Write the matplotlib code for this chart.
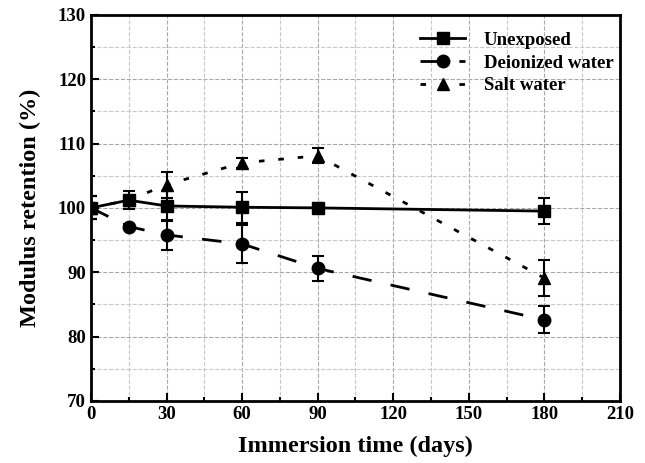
import matplotlib
matplotlib.use("Agg")
import matplotlib.pyplot as plt
from matplotlib.ticker import MultipleLocator
from matplotlib.lines import Line2D

# ===== datos =====
dias = [0, 15, 30, 60, 90, 180]

sin_exponer = [100.0, 101.2, 100.3, 100.1, 100.0, 99.5]
sin_exponer_err = [1.8, 1.4, 2.3, 2.4, 0.7, 2.0]

agua_desionizada = [100.0, 97.1, 95.8, 94.4, 90.6, 82.6]
agua_desionizada_err = [1.8, 0.4, 2.3, 2.9, 1.9, 2.1]

agua_salada = [100.0, 101.2, 103.6, 107.0, 108.1, 89.1]
agua_salada_err = [1.8, 0.4, 2.0, 0.8, 1.2, 2.8]

etiquetas = ["Unexposed", "Deionized water", "Salt water"]

# ===== gráfico =====
plt.rcParams["font.family"] = ["Liberation Serif", "DejaVu Serif"]
plt.rcParams["font.weight"] = "bold"

fig = plt.figure(figsize=(6.45, 4.63), dpi=100)
ax = fig.add_axes([0.141, 0.134, 0.820, 0.834])

estilo = dict(color="black", lw=2, capsize=4, capthick=1.5, elinewidth=1.5)
ls_sal = (0, (2, 5))
ls_des = (0, (7, 7))

ax.errorbar(dias, agua_salada, yerr=agua_salada_err, marker="^", ms=9,
            linestyle=ls_sal, zorder=3, **estilo)
ax.errorbar(dias, agua_desionizada, yerr=agua_desionizada_err, marker="o", ms=9,
            linestyle=ls_des, zorder=4, **estilo)
ax.errorbar(dias, sin_exponer, yerr=sin_exponer_err, marker="s", ms=8,
            linestyle="-", zorder=5, **estilo)

ax.set_xlim(0, 210)
ax.set_ylim(70, 130)
ax.xaxis.set_major_locator(MultipleLocator(30))
ax.xaxis.set_minor_locator(MultipleLocator(15))
ax.yaxis.set_major_locator(MultipleLocator(10))
ax.yaxis.set_minor_locator(MultipleLocator(5))

ax.grid(True, which="major", linestyle="--", color="#a8a8a8", lw=0.8)
ax.grid(True, which="minor", linestyle="--", color="#c8c8c8", lw=0.8)
ax.set_axisbelow(True)

ax.tick_params(which="both", direction="in", top=False, right=False,
               labelsize=13.5, width=1.5)
ax.tick_params(which="major", length=6)
ax.tick_params(which="minor", length=3)
for s in ax.spines.values():
    s.set_linewidth(2)

ax.set_xlabel("Immersion time (days)", fontsize=17.5, fontweight="bold", labelpad=9)
ax.set_ylabel("Modulus retention (%)", fontsize=17.5, fontweight="bold", labelpad=12)

# Leyenda sin barras de error
manejadores = [
    Line2D([], [], color="black", lw=2, marker="s", ms=8, linestyle="-"),
    Line2D([], [], color="black", lw=2, marker="o", ms=9, linestyle=ls_des),
    Line2D([], [], color="black", lw=2, marker="^", ms=9, linestyle=ls_sal),
]
ax.legend(manejadores, etiquetas, loc="upper right", frameon=False,
          fontsize=13.5, handlelength=2.4, handletextpad=1.0,
          labelspacing=0.3, bbox_to_anchor=(1.02, 1.0), borderaxespad=0.5)

plt.savefig("out.png", dpi=100)
plt.close()
